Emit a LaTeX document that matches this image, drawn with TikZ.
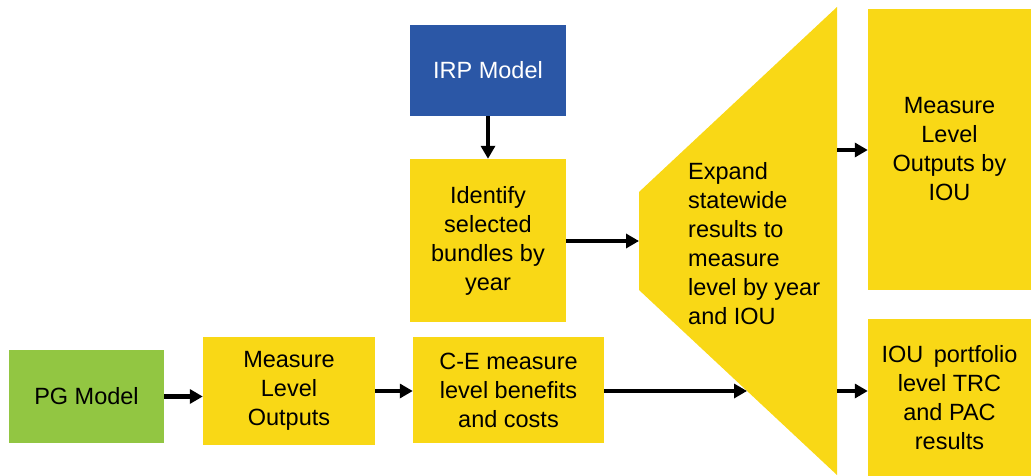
\documentclass[tikz,border=0pt]{standalone}
\usepackage{fontspec}
\setmainfont{Liberation Sans}
\usetikzlibrary{arrows.meta}
\definecolor{ylw}{RGB}{249,216,22}
\definecolor{blu}{RGB}{43,87,166}
\definecolor{grn}{RGB}{146,198,66}
\begin{document}
\begin{tikzpicture}[x=1pt,y=-1pt,
  box/.style={rectangle, fill=ylw, inner sep=0pt, align=center,
    font=\fontsize{23.5}{29}\selectfont},
  arr/.style={line width=4.5pt, -{Triangle[length=13pt,width=14pt]}}]
\useasboundingbox (0,0) rectangle (1031,476);
% boxes
\node[box, fill=blu, text=white, minimum width=156pt, minimum height=91pt] (irp) at (488,70.5) {IRP Model};
\node[box, minimum width=156pt, minimum height=163pt] (ident) at (488,240.5) {Identify\\selected\\bundles by\\year};
\node[box, fill=grn, minimum width=155pt, minimum height=93pt] (pg) at (86.5,396.5) {PG Model};
\node[box, minimum width=172pt, minimum height=108pt] (mlo) at (289,391) {Measure\\Level\\Outputs};
\node[box, minimum width=191pt, minimum height=106pt] (ce) at (508.5,390) {C-E measure\\level benefits\\and costs};
\node[box, minimum width=163pt, minimum height=281pt] (mloiou) at (949.5,149.5) {Measure\\Level\\Outputs by\\IOU};
\node[box, minimum width=163pt, minimum height=157pt] (iouport) at (949.5,397.5) {IOU\, portfolio\\level TRC\\and PAC\\results};
% trapezoid
\coordinate (tl) at (639,192);
\coordinate (tr) at (837,7);
\coordinate (brr) at (837,475);
\coordinate (bl) at (639,290);
\fill[ylw] (tl) -- (tr) -- (brr) -- (bl) -- cycle;
\node[box, fill=none, align=left, anchor=west] (trap) at (688,243.5) {Expand\\statewide\\results to\\measure\\level by year\\and IOU};
\coordinate (trapL) at (639,241);
\coordinate (trapB) at (747,391);
\coordinate (trapR1) at (837,150);
\coordinate (trapR2) at (837,391);
% connectors
\draw[arr] (irp.south) -- (ident.north);
\draw[arr] (ident.east |- trapL) -- (trapL);
\draw[arr] (pg.east) -- (pg.east -| mlo.west);
\draw[arr] (mlo.east) -- (mlo.east -| ce.west);
\draw[arr] (ce.east |- trapB) -- (trapB);
\draw[arr] (trapR1) -- (trapR1 -| mloiou.west);
\draw[arr] (trapR2) -- (trapR2 -| iouport.west);
\end{tikzpicture}
\end{document}
